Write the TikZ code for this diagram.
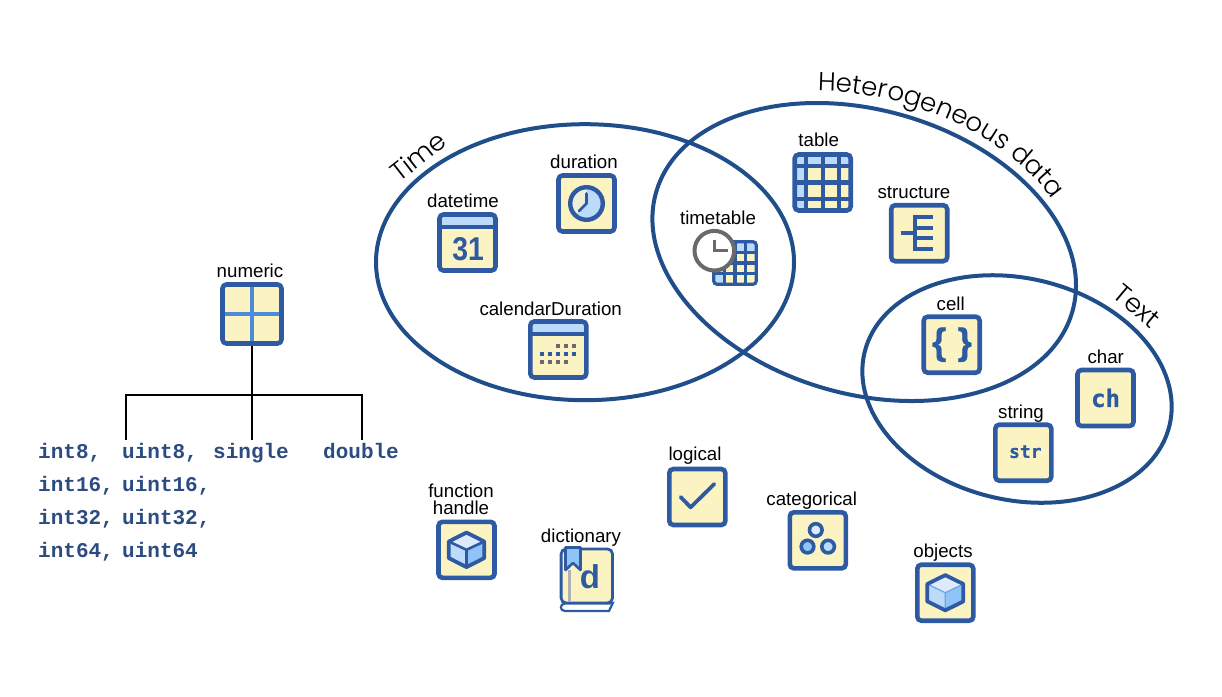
\documentclass[tikz,border=0pt]{standalone}
\usepackage{fontspec}
\setmainfont{Liberation Sans}
\newfontfamily\curvefont{Poppins}[UprightFont=* Light]
\newfontfamily\monofont{Liberation Mono}
\newfontfamily\pixfont{DejaVu Sans Mono}[UprightFont=* Bold,FakeBold=0.6]
\newfontfamily\fatfont{Liberation Sans}[UprightFont=* Bold,FakeBold=0.6]
\usetikzlibrary{decorations.text}
\definecolor{iconblue}{HTML}{2D5AA2}
\definecolor{iconfill}{HTML}{FCF3C3}
\definecolor{lightb}{HTML}{BCDAFA}
\definecolor{midb}{HTML}{8FC4F8}
\definecolor{paleb}{HTML}{DDEBFD}
\definecolor{crossb}{HTML}{4C8BD9}
\definecolor{ringb}{HTML}{1F4E8A}
\definecolor{monob}{HTML}{2C4C80}
\definecolor{greyc}{HTML}{6A6A6A}
\tikzset{
  x=1pt,y=-1pt,
  ring/.style={draw=ringb,line width=4pt},
  iconbox/.style={draw=iconblue,fill=iconfill,line width=4.6pt,rounded corners=4pt,minimum size=56pt,inner sep=0pt},
  inside/.style={path picture={\begin{scope}[shift={(path picture bounding box.center)}]#1\end{scope}}},
  lbl/.style={anchor=base,inner sep=0pt,text=black,font=\fontsize{18.7}{18.7}\selectfont},
  mono/.style={anchor=base west,inner sep=0pt,text height=18.3pt,text=monob,font=\monofont\bfseries\fontsize{21}{21}\selectfont},
  gl/.style={inner sep=0pt,text=iconblue},
  ln/.style={draw=iconblue,line width=4.4pt},
  tree/.style={draw=black,line width=1.8pt},
  curve/.style={anchor=center,inner sep=0pt,font=\curvefont\fontsize{26}{26}\selectfont},
}
\begin{document}
\begin{tikzpicture}
\useasboundingbox (0,0) rectangle (1222,696);
% rings
\draw[ring] (585,262.2) ellipse [x radius=209pt,y radius=138pt];
\draw[ring,shift={(864.2,252)},rotate=-16] (0,0) ellipse [x radius=216.5pt,y radius=142pt];
\draw[ring,shift={(1017,389)},rotate=-13.4] (0,0) ellipse [x radius=156.8pt,y radius=110.8pt];
% ring titles
\node[curve,rotate=38] (timeT) at (418,156) {Time};
\node[curve,rotate=-40] (textT) at (1137,306) {Text};
\coordinate (hetA) at (816.3,91);
\coordinate (hetB) at (912,91);
\coordinate (hetC) at (1010,138);
\coordinate (hetD) at (1053,201);
\path[decorate,decoration={text along path,text align=center,text={|\curvefont\fontsize{26}{26}\selectfont|Heterogeneous data}}] (hetA) .. controls (hetB) and (hetC) .. (hetD);
% numeric
\node[iconbox,minimum size=59pt,inside={\draw[crossb,line width=3.7pt] (0,-32) -- (0,32) (-32,0) -- (32,0);}] (numeric) at (252,314) {};
\node[lbl] (numericL) at (250,277.7) {numeric};
\node[mono] (int8) at (38,458.3) {int8,};
\node[mono] (uint8) at (122,458.3) {uint8,};
\node[mono] (single) at (213,458.3) {single};
\node[mono] (double) at (323,458.3) {double};
\node[mono] (int16) at (38,491.3) {int16,};
\node[mono] (uint16) at (122,491.3) {uint16,};
\node[mono] (int32) at (38,524.3) {int32,};
\node[mono] (uint32) at (122,524.3) {uint32,};
\node[mono] (int64) at (38,557.3) {int64,};
\node[mono] (uint64) at (122,557.3) {uint64};
\coordinate (treeM) at (252,394.7);
\coordinate (treeL) at (125.7,394.7);
\coordinate (treeR) at (362,394.7);
\draw[tree] (numeric.south) -- (treeM);
\draw[tree] (treeL |- uint8.north) -- (treeL) -- (treeR) -- (treeR |- double.north);
\draw[tree] (treeM) -- (treeM |- single.north);
% datetime
\node[iconbox,inside={\fill[lightb] (-30,-30) rectangle (30,-15.5);\draw[ln] (-30,-15.5) -- (30,-15.5);}] (datetime) at (467.5,242.5) {};
\node[lbl] (datetimeL) at (463,207) {datetime};
\node[gl,font=\bfseries\fontsize{33}{33}\selectfont,xscale=.86,transform shape] (d31) at ([xshift=.7pt,yshift=-6.5pt]datetime.center) {31};
% duration
\node[iconbox] (duration) at (586.5,203.5) {};
\node[lbl] (durationL) at (584,168) {duration};
\begin{scope}[shift={(duration.center)}]
\fill[paleb!40!iconfill] (0,0) circle [radius=16];
\fill[lightb] (0,0) -- (0,-15) .. controls (8.28,-15) and (15,-8.28) .. (15,0) .. controls (15,8.28) and (8.28,15) .. (0,15) .. controls (-4.1,15) and (-7.9,13.4) .. (-10.6,10.6) -- cycle;
\draw[ln] (0,0) circle [radius=16.3];
\draw[ln,line width=2.8pt,line cap=round,line join=round] (0,-10) -- (0,0) -- (-7.3,7.3);
\end{scope}
% calendarDuration
\node[iconbox,inside={\fill[lightb] (-30,-30) rectangle (30,-15.5);\draw[ln] (-30,-15.5) -- (30,-15.5);}] (calendar) at (558.3,349.5) {};
\node[lbl] (calendarL) at (550.7,315) {calendarDuration};
\begin{scope}[shift={(calendar.center)}]
\foreach \x in {-0.3,7.7,15.7} \fill[greyc] (\x-1.7,-5.4) rectangle (\x+1.7,-2);
\foreach \x in {-16.3,-8.3,-0.3,7.7,15.7} \fill[iconblue] (\x-1.7,2.6) rectangle (\x+1.7,6);
\foreach \x in {-16.3,-8.3,-0.3,7.7} \fill[greyc] (\x-1.7,10.6) rectangle (\x+1.7,14);
\end{scope}
% table
\node[iconbox,inside={\fill[lightb] (-30,-30) rectangle (30,-16.7);\fill[lightb] (-30,-30) rectangle (-17,30);\draw[ln] (-17,-30) -- (-17,30) (0,-30) -- (0,30) (16.3,-30) -- (16.3,30) (-30,-16.7) -- (30,-16.7) (-30,0) -- (30,0) (-30,16.3) -- (30,16.3);}] (table) at (822.7,182.5) {};
\node[lbl] (tableL) at (818.7,146) {table};
% timetable
\node[iconbox,line width=3.2pt,minimum size=42.4pt,rounded corners=3pt,inside={\fill[lightb] (-24,-24) rectangle (24,-10.7);\fill[lightb] (-24,-24) rectangle (-10.7,24);\draw[ln,line width=3.2pt] (-10.7,-24) -- (-10.7,24) (0,-24) -- (0,24) (10.7,-24) -- (10.7,24) (-24,-10.7) -- (24,-10.7) (-24,0) -- (24,0) (-24,10.7) -- (24,10.7);}] (timetbl) at (735,263) {};
\node[lbl] (timetableL) at (718,224) {timetable};
\node[circle,draw=greyc,fill=white,line width=4pt,minimum size=39.6pt,inner sep=0pt] (ttclock) at (714.3,250.7) {};
\draw[greyc,line width=3.2pt] ([yshift=10.7pt]ttclock.center) -- (ttclock.center) -- ([xshift=14pt]ttclock.center);
% structure
\node[iconbox] (structure) at (919.2,233.2) {};
\node[lbl] (structureL) at (914,198) {structure};
\begin{scope}[shift={(structure.center)}]
\draw[ln,line width=4pt] (13.8,-16) -- (-3.9,-16) -- (-3.9,16) -- (13.8,16) (-3.9,-5) -- (13.8,-5) (-3.9,5) -- (13.8,5) (-18.5,0) -- (-3.9,0);
\end{scope}
% cell
\node[iconbox] (cell) at (951.7,344.7) {};
\node[lbl] (cellL) at (950.7,310) {cell};
\node[gl,font=\fatfont\fontsize{37}{37}\selectfont] (braceL) at ([xshift=-12.5pt]cell.center) {\{};
\node[gl,font=\fatfont\fontsize{37}{37}\selectfont] (braceR) at ([xshift=13pt]cell.center) {\}};
% char
\node[iconbox] (char) at (1105.5,398) {};
\node[lbl] (charL) at (1105.7,363) {char};
\node[gl,font=\pixfont\fontsize{24}{24}\selectfont] (chT) at (char.center) {ch};
% string
\node[iconbox] (string) at (1023.3,452.7) {};
\node[lbl] (stringL) at (1021,418) {string};
\node[gl,font=\pixfont\fontsize{18}{18}\selectfont] (strT) at ([xshift=2pt,yshift=1pt]string.center) {str};
% function handle
\node[iconbox] (fhandle) at (466.5,549.8) {};
\node[lbl] (fhandleA) at (461,497.3) {function};
\node[lbl] (fhandleB) at (461,514.3) {handle};
\begin{scope}[shift={(fhandle.center)}]
\fill[paleb] (0,0) -- (-17.7,-8.3) -- (0,-17.3) -- (17.7,-8.3) -- cycle;
\fill[lightb] (0,0) -- (-17.7,-8.3) -- (-17.7,8.3) -- (0,17.3) -- cycle;
\fill[midb] (0,0) -- (17.7,-8.3) -- (17.7,8.3) -- (0,17.3) -- cycle;
\draw[ln,line width=2.6pt] (-17.7,-8.3) -- (0,0) -- (17.7,-8.3) (0,0) -- (0,17.3);
\draw[ln,line width=3.8pt,line join=round] (0,-17.3) -- (17.7,-8.3) -- (17.7,8.3) -- (0,17.3) -- (-17.7,8.3) -- (-17.7,-8.3) -- cycle;
\end{scope}
% logical
\node[iconbox] (logical) at (697.3,497) {};
\node[lbl] (logicalL) at (695,460) {logical};
\begin{scope}[shift={(logical.center)}]
\draw[ln,line width=3.8pt,line cap=round,line join=round] (-16.7,0) -- (-6.7,10.3) -- (17,-13);
\end{scope}
% categorical
\node[iconbox] (categorical) at (817.8,540.3) {};
\node[lbl] (categoricalL) at (811.7,505.7) {categorical};
\begin{scope}[shift={(categorical.center)}]
\draw[ln,line width=3.6pt,fill=paleb] (-2,-10.3) circle [radius=6.3];
\draw[ln,line width=3.6pt,fill=midb] (-10.3,6.3) circle [radius=6.3];
\draw[ln,line width=3.6pt,fill=lightb] (10.3,6.3) circle [radius=6.3];
\end{scope}
% objects
\node[iconbox] (objects) at (945.3,592.7) {};
\node[lbl] (objectsL) at (943,557) {objects};
\begin{scope}[shift={(objects.center)}]
\fill[paleb] (0,0) -- (-18,-8.7) -- (0,-17.6) -- (18,-8.7) -- cycle;
\fill[lightb] (0,0) -- (-18,-8.7) -- (-18,8.7) -- (0,17.6) -- cycle;
\fill[midb] (0,0) -- (18,-8.7) -- (18,8.7) -- (0,17.6) -- cycle;
\draw[midb!70!iconblue,line width=1.2pt] (-18,-8.7) -- (0,0) -- (18,-8.7) (0,0) -- (0,17.6);
\draw[ln,line width=3.8pt,line join=round] (0,-17.6) -- (18,-8.7) -- (18,8.7) -- (0,17.6) -- (-18,8.7) -- (-18,-8.7) -- cycle;
\end{scope}
% dictionary
\node[lbl] (dictionaryL) at (581,542) {dictionary};
\node[draw=iconblue,fill=iconfill,line width=2.8pt,rounded corners=5pt,minimum width=51.4pt,minimum height=54pt,inner sep=0pt] (dictionary) at (586.8,576) {};
\draw[iconblue,line width=2.2pt,fill=white] (609,603.5) -- (565,603.5) .. controls (559.5,603.5) and (559.5,611) .. (565,611) -- (609,611) -- (612.8,603) -- cycle;
\draw[black!30,line width=2.8pt] (569.3,570) -- (569.3,601.5);
\fill[midb] (565.5,547.5) -- (580.5,547.5) -- (580.5,570) -- (573,563) -- (565.5,570) -- cycle;
\draw[iconblue,line width=2.6pt,line join=round] (565.5,547.5) -- (580.5,547.5) -- (580.5,570) -- (573,563) -- (565.5,570) -- cycle;
\node[gl,font=\bfseries\fontsize{33}{33}\selectfont] (dT) at (590,577) {d};
\end{tikzpicture}
\end{document}
